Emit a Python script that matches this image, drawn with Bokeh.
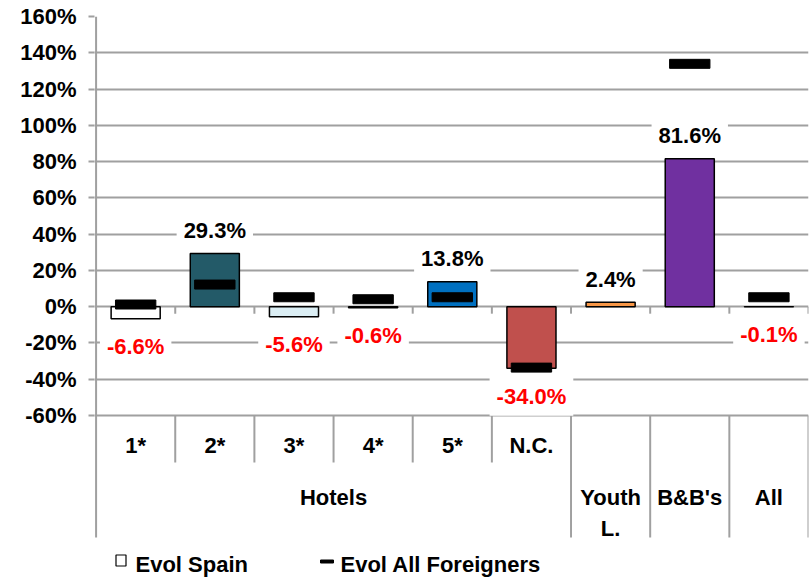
from bokeh.plotting import figure
from bokeh.models import Range1d, FixedTicker, PrintfTickFormatter, ColumnDataSource
from bokeh.core.properties import value
from bokeh.embed import file_html
from bokeh.resources import INLINE

# ---------------- data ----------------
categories = ["1*", "2*", "3*", "4*", "5*", "N.C.", "Youth L.", "B&B's", "All"]
sub_labels = ["1*", "2*", "3*", "4*", "5*", "N.C.", "", "", ""]
group_labels = ["Hotels", "Youth\nL.", "B&B's", "All"]
group_sizes = [6, 1, 1, 1]
evol_spain = [-6.6, 29.3, -5.6, -0.6, 13.8, -34.0, 2.4, 81.6, -0.1]
evol_foreigners = [1.2, 12.2, 5.2, 4.1, 5.2, -33.6, float("nan"), 133.9, 5.2]
bar_colors = ["#ffffff", "#235a68", "#dbeef4", "#595959", "#0070c0",
              "#c0504d", "#f79646", "#7030a0", "#404040"]
y_ticks = [-60, -40, -20, 0, 20, 40, 60, 80, 100, 120, 140, 160]
legend_labels = ["Evol Spain", "Evol All Foreigners"]

# ---------------- layout ----------------
FONT = "Liberation Sans"
W, H = 811, 579
BL, BR, BT, BB = 94, 3, 16, 0
FRAME_W = W - BL - BR
FRAME_H = H - BT - BB
Y_MAX, Y_MIN = y_ticks[-1], y_ticks[0]
AXIS_PX = 399
U = (Y_MAX - Y_MIN) / AXIS_PX          # data units per pixel (y)
X_PAD = 0.02
N = len(categories)
XU = (N + X_PAD) / FRAME_W              # data units per pixel (x)
GRID = "#a0a0a0"


def py(canvas_y):
    return Y_MAX - (canvas_y - BT) * U


def px(canvas_x):
    return -X_PAD + (canvas_x - BL) * XU


p = figure(width=W, height=H, x_range=Range1d(-X_PAD, N),
           y_range=Range1d(Y_MAX - FRAME_H * U, Y_MAX),
           output_backend="svg", toolbar_location=None,
           x_axis_location=None,
           min_border_left=BL, min_border_right=BR,
           min_border_top=BT, min_border_bottom=BB,
           outline_line_color=None, background_fill_color="white")

# y axis
ax = p.yaxis[0]
ax.ticker = FixedTicker(ticks=y_ticks)
ax.formatter = PrintfTickFormatter(format="%d%%")
ax.axis_line_color = None
ax.major_tick_line_color = GRID
ax.major_tick_line_width = 2
ax.major_tick_out = 6
ax.major_tick_in = 0
ax.minor_tick_line_color = None
ax.major_label_text_font = FONT
ax.major_label_text_font_style = "bold"
ax.major_label_text_font_size = "22px"
ax.major_label_text_color = "black"
ax.major_label_standoff = 12

p.xgrid.visible = False
p.ygrid.ticker = FixedTicker(ticks=y_ticks)
p.ygrid.grid_line_color = GRID
p.ygrid.grid_line_width = 2

xs = [i + 0.5 for i in range(N)]

# left axis line (down into the category area)
p.segment(x0=[0], y0=[Y_MAX], x1=[0], y1=[Y_MIN - 122 * U], line_color=GRID, line_width=2)

# tick marks at zero line
p.segment(x0=list(range(1, N + 1)), y0=[0] * N, x1=list(range(1, N + 1)),
          y1=[-7 * U] * N, line_color=GRID, line_width=2)

# separators in category area
bounds = [0]
for s in group_sizes:
    bounds.append(bounds[-1] + s)
inner = [b for b in range(1, N) if b not in bounds]
p.segment(x0=inner, y0=[Y_MIN] * len(inner), x1=inner, y1=[Y_MIN - 47 * U] * len(inner),
          line_color=GRID, line_width=2)
outer = bounds[1:]
p.segment(x0=outer, y0=[Y_MIN] * len(outer), x1=outer, y1=[Y_MIN - 122 * U] * len(outer),
          line_color=GRID, line_width=2)

# data labels (white boxes, drawn before bars so bars stay on top)
lab = ColumnDataSource(dict(
    x=xs, y=evol_spain,
    text=[f"{v:.1f}%" for v in evol_spain],
    color=["black" if v >= 0 else "#ff0000" for v in evol_spain],
    yoff=[-23 if v >= 0 else 28 for v in evol_spain]))
p.text(x="x", y="y", text="text", source=lab, y_offset="yoff",
       text_align="center", text_baseline="middle",
       text_color="color", text_font=value(FONT),
       text_font_style="bold", text_font_size="22px",
       background_fill_color="white", padding=7)

# bars
src = ColumnDataSource(dict(x=xs, top=evol_spain, color=bar_colors))
p.vbar(x="x", top="top", bottom=0, width=0.62, source=src,
       fill_color="color", line_color="black", line_width=1.5)

# foreigners markers
p.rect(x=xs, y=evol_foreigners, width=0.51, height=9, height_units="screen",
       fill_color="black", line_color="black")

# category labels
p.text(x=xs, y=[py(445)] * N, text=sub_labels, text_align="center",
       text_baseline="middle", text_font=value(FONT), text_font_style="bold",
       text_font_size="22px", text_color="black")
gx = [(bounds[i] + bounds[i + 1]) / 2 for i in range(len(group_sizes))]
p.text(x=gx, y=[py(484)] * len(gx), text=group_labels, text_align="center",
       text_baseline="top", text_font=value(FONT), text_font_style="bold",
       text_font_size="22px", text_color="black", text_line_height=1.25)

# legend
p.rect(x=[px(120.5)], y=[py(560)], width=10 * XU, height=11 * U,
       fill_color="white", line_color="black", line_width=1.2)
p.rect(x=[px(326.5)], y=[py(561)], width=13 * XU, height=3 * U,
       fill_color="black", line_color="black")
p.text(x=[px(135), px(340)], y=[py(564)] * 2, text=legend_labels,
       text_align="left", text_baseline="middle", text_font=value(FONT),
       text_font_style="bold", text_font_size="22px", text_color="black")

open("out.html", "w").write(file_html(p, INLINE))
